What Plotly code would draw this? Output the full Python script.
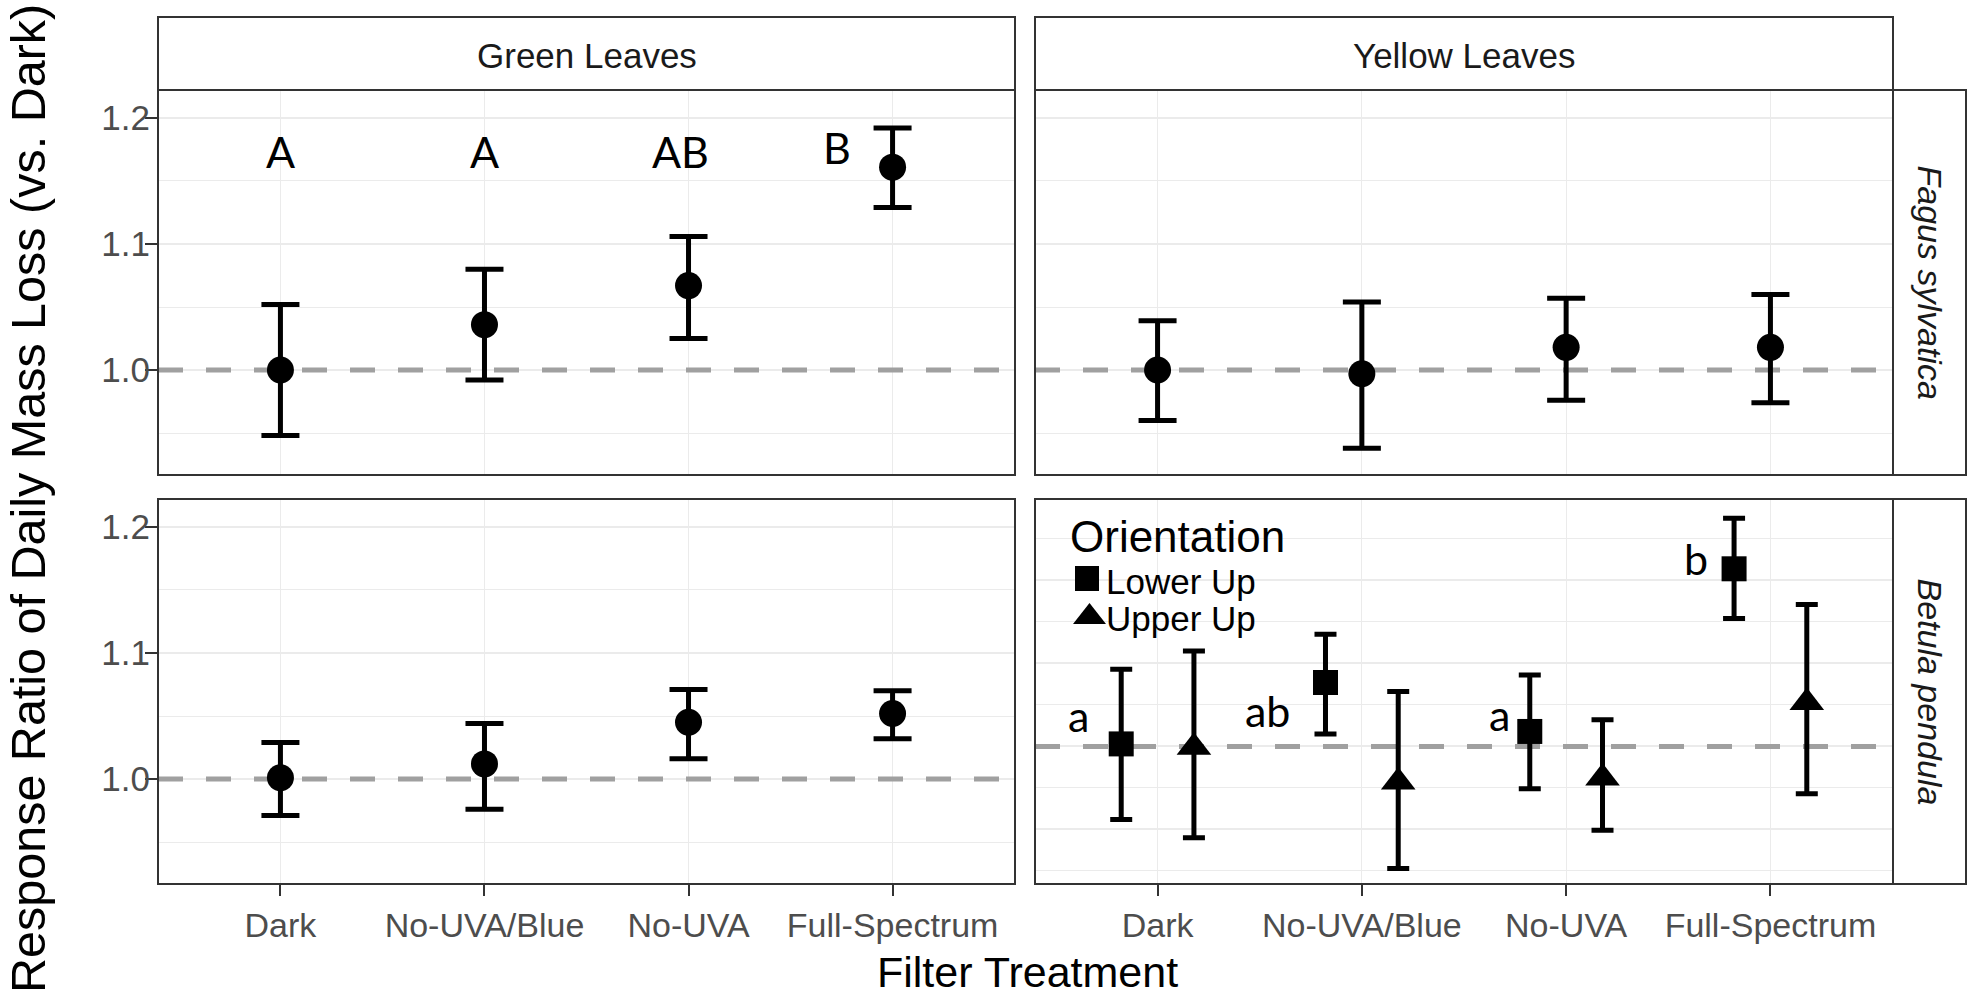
import plotly.graph_objects as go

# ---------------- data ----------------
categories = ["Dark", "No-UVA/Blue", "No-UVA", "Full-Spectrum"]
leaf_types = ["Green Leaves", "Yellow Leaves"]
species = ["Fagus sylvatica", "Betula pendula"]
orientations = ["Lower Up", "Upper Up"]

# Fagus sylvatica – green leaves
fagus_green_mean = [1.000, 1.036, 1.067, 1.161]
fagus_green_upper = [1.052, 1.080, 1.106, 1.192]
fagus_green_lower = [0.948, 0.992, 1.025, 1.129]

# Fagus sylvatica – yellow leaves
fagus_yellow_mean = [1.000, 0.997, 1.018, 1.018]
fagus_yellow_upper = [1.039, 1.054, 1.057, 1.060]
fagus_yellow_lower = [0.960, 0.938, 0.976, 0.974]

# Betula pendula – green leaves
betula_green_mean = [1.001, 1.012, 1.045, 1.052]
betula_green_upper = [1.029, 1.044, 1.071, 1.070]
betula_green_lower = [0.971, 0.976, 1.016, 1.032]

# Betula pendula – yellow leaves, by orientation
betula_yellow_lowerup_mean = [1.003, 1.077, 1.018, 1.214]
betula_yellow_lowerup_upper = [1.093, 1.135, 1.086, 1.275]
betula_yellow_lowerup_lower = [0.912, 1.015, 0.949, 1.154]
betula_yellow_upperup_mean = [0.999, 0.957, 0.962, 1.053]
betula_yellow_upperup_upper = [1.115, 1.066, 1.032, 1.171]
betula_yellow_upperup_lower = [0.890, 0.853, 0.899, 0.943]

green_fagus_letters = ["A", "A", "AB", "B"]
yellow_betula_letters = ["a", "ab", "a", "b"]

reference_value = 1.0

# ---------------- layout helpers ----------------
W, H = 1971, 998
def PX(px):
    return px / W
def PY(py):
    return 1 - py / H

FONT = "Liberation Sans, Arial, sans-serif"
LETTER_FONT = "Lato, Open Sans, sans-serif"
GRID = "#EBEBEB"
BORDER = "#333333"

xpos = list(range(1, len(categories) + 1))
xrange_all = [0.4, 4.6]
dodge = 0.178

fig = go.Figure()

# dashed reference lines (drawn first so they sit under the points)
for xa, ya in [("x", "y"), ("x2", "y2"), ("x3", "y3"), ("x4", "y4")]:
    fig.add_trace(go.Scatter(
        x=xrange_all, y=[reference_value, reference_value], xaxis=xa, yaxis=ya,
        mode="lines", line=dict(color="#A0A0A0", width=5, dash="25px,23px"),
        showlegend=False, hoverinfo="skip"))

def err_trace(x, mean, upper, lower, xa, ya, symbol, size, capw, name):
    return go.Scatter(
        x=x, y=mean, xaxis=xa, yaxis=ya, mode="markers", name=name,
        marker=dict(symbol=symbol, size=size, color="black"),
        error_y=dict(type="data", symmetric=False,
                     array=[u - m for u, m in zip(upper, mean)],
                     arrayminus=[m - l for m, l in zip(mean, lower)],
                     color="black", thickness=5, width=capw),
        showlegend=False, hoverinfo="skip",
    )

fig.add_trace(err_trace(xpos, fagus_green_mean, fagus_green_upper, fagus_green_lower,
                        "x", "y", "circle", 27, 19, "Fagus green"))
fig.add_trace(err_trace(xpos, fagus_yellow_mean, fagus_yellow_upper, fagus_yellow_lower,
                        "x2", "y2", "circle", 27, 19, "Fagus yellow"))
fig.add_trace(err_trace(xpos, betula_green_mean, betula_green_upper, betula_green_lower,
                        "x3", "y3", "circle", 27, 19, "Betula green"))
fig.add_trace(err_trace([p - dodge for p in xpos], betula_yellow_lowerup_mean,
                        betula_yellow_lowerup_upper, betula_yellow_lowerup_lower,
                        "x4", "y4", "square", 25, 11, orientations[0]))
fig.add_trace(err_trace([p + dodge for p in xpos], betula_yellow_upperup_mean,
                        betula_yellow_upperup_upper, betula_yellow_upperup_lower,
                        "x4", "y4", "triangle-up", 30, 11, orientations[1]))

# ---------------- axes ----------------
xdom_left = [PX(158), PX(1015)]
xdom_right = [PX(1035), PX(1893)]
ydom_top = [PY(475), PY(90)]
ydom_bot = [PY(884), PY(499)]
yrange_main = [0.9167, 1.2222]
yrange_br = [0.8342, 1.2981]

def xaxis(domain, anchor, show_labels):
    return dict(domain=domain, anchor=anchor, range=xrange_all,
                tickmode="array", tickvals=xpos, ticktext=categories,
                showticklabels=show_labels,
                ticks="outside" if show_labels else "", ticklen=11, tickwidth=2,
                tickcolor=BORDER,
                tickfont=dict(family=FONT, size=34, color="#4D4D4D"),
                showgrid=True, gridcolor=GRID, gridwidth=1.2,
                zeroline=False, showline=False, fixedrange=True)

def yaxis(domain, anchor, rng, show_labels, major, minor):
    return dict(domain=domain, anchor=anchor, range=rng,
                tickmode="array", tickvals=major,
                ticktext=[f"{v:.1f}" for v in major],
                showticklabels=show_labels,
                ticks="outside" if show_labels else "", ticklen=12, tickwidth=2,
                tickcolor=BORDER, ticklabelstandoff=-12,
                tickfont=dict(family=FONT, size=35, color="#4D4D4D"),
                showgrid=True, gridcolor=GRID, gridwidth=2,
                minor=dict(tickmode="array", tickvals=minor, showgrid=True,
                           gridcolor=GRID, gridwidth=1.2, ticks=""),
                zeroline=False, showline=False, fixedrange=True)

major_main = [1.0, 1.1, 1.2]
minor_main = [0.95, 1.05, 1.15]
major_br = [0.9, 1.0, 1.1, 1.2]
minor_br = [0.85, 0.95, 1.05, 1.15, 1.25]

fig.update_layout(
    xaxis=xaxis(xdom_left, "y", False),
    xaxis2=xaxis(xdom_right, "y2", False),
    xaxis3=xaxis(xdom_left, "y3", True),
    xaxis4=xaxis(xdom_right, "y4", True),
    yaxis=yaxis(ydom_top, "x", yrange_main, True, major_main, minor_main),
    yaxis2=yaxis(ydom_top, "x2", yrange_main, False, major_main, minor_main),
    yaxis3=yaxis(ydom_bot, "x3", yrange_main, True, major_main, minor_main),
    yaxis4=yaxis(ydom_bot, "x4", yrange_br, False, major_br, minor_br),
)

# ---------------- shapes ----------------
shapes = []
for xa, ya in [("x", "y"), ("x2", "y2"), ("x3", "y3"), ("x4", "y4")]:
    shapes.append(dict(type="rect", xref=f"{xa} domain", yref=f"{ya} domain",
                       x0=0, x1=1, y0=0, y1=1, layer="above",
                       line=dict(color=BORDER, width=2), fillcolor="rgba(0,0,0,0)"))
# strips
for dom in (xdom_left, xdom_right):
    shapes.append(dict(type="rect", xref="paper", yref="paper",
                       x0=dom[0], x1=dom[1], y0=PY(90), y1=PY(17),
                       line=dict(color=BORDER, width=2), fillcolor="white"))
for dom in (ydom_top, ydom_bot):
    shapes.append(dict(type="rect", xref="paper", yref="paper",
                       x0=PX(1893), x1=PX(1966), y0=dom[0], y1=dom[1],
                       line=dict(color=BORDER, width=2), fillcolor="white"))

# legend keys (square and triangle) inside bottom-right panel
shapes.append(dict(type="rect", xref="paper", yref="paper",
                   x0=PX(1075), x1=PX(1099), y0=PY(591), y1=PY(566),
                   line=dict(width=0), fillcolor="black", layer="above"))
shapes.append(dict(type="path", xref="paper", yref="paper", layer="above",
                   path=(f"M {PX(1073)},{PY(624)} L {PX(1106)},{PY(624)} "
                         f"L {PX(1089.5)},{PY(603)} Z"),
                   line=dict(width=0), fillcolor="black"))

# ---------------- annotations ----------------
ann = []
for dom, txt in zip((xdom_left, xdom_right), leaf_types):
    ann.append(dict(text=txt, xref="paper", yref="paper", x=(dom[0] + dom[1]) / 2,
                    y=PY(55), xanchor="center", yanchor="middle", showarrow=False,
                    font=dict(family=FONT, size=35, color="#1A1A1A")))
for dom, txt in zip((ydom_top, ydom_bot), species):
    ann.append(dict(text=f"<i>{txt}</i>", xref="paper", yref="paper", x=PX(1930),
                    y=(dom[0] + dom[1]) / 2, xanchor="center", yanchor="middle",
                    textangle=90, showarrow=False,
                    font=dict(family=FONT, size=34, color="#1A1A1A")))
ann.append(dict(text="Response Ratio of Daily Mass Loss (vs. Dark)", xref="paper",
                yref="paper", x=PX(28), y=PY(499), xanchor="center", yanchor="middle",
                textangle=-90, showarrow=False,
                font=dict(family=FONT, size=48.5, color="black")))
ann.append(dict(text="Filter Treatment", xref="paper", yref="paper", x=PX(1027),
                y=PY(972), xanchor="center", yanchor="middle", showarrow=False,
                font=dict(family=FONT, size=43, color="black")))

# significance letters (positions are layout, relative to categories)
green_letter_dx = [0.0, 0.0, -0.04, -0.27]
green_letter_y = [1.1736, 1.1736, 1.1736, 1.1762]
for p, dx, yy, t in zip(xpos, green_letter_dx, green_letter_y, green_fagus_letters):
    ann.append(dict(text=t, xref="x", yref="y", x=p + dx, y=yy, showarrow=False,
                    xanchor="center", yanchor="middle",
                    font=dict(family=LETTER_FONT, size=43, color="black")))
yb_letter_dx = [-0.386, -0.46, -0.326, -0.362]
yb_letter_y = [1.037, 1.043, 1.039, 1.226]
for p, dx, yy, t in zip(xpos, yb_letter_dx, yb_letter_y, yellow_betula_letters):
    ann.append(dict(text=t, xref="x4", yref="y4", x=p + dx, y=yy, showarrow=False,
                    xanchor="center", yanchor="middle",
                    font=dict(family=LETTER_FONT, size=43, color="black")))

# legend text
ann.append(dict(text="Orientation", xref="paper", yref="paper", x=PX(1068), y=PY(536),
                xanchor="left", yanchor="middle", showarrow=False,
                font=dict(family=FONT, size=44, color="black")))
ann.append(dict(text=orientations[0], xref="paper", yref="paper", x=PX(1104), y=PY(581),
                xanchor="left", yanchor="middle", showarrow=False,
                font=dict(family=FONT, size=35, color="black")))
ann.append(dict(text=orientations[1], xref="paper", yref="paper", x=PX(1104), y=PY(618),
                xanchor="left", yanchor="middle", showarrow=False,
                font=dict(family=FONT, size=35, color="black")))

fig.update_layout(
    width=W, height=H, margin=dict(l=0, r=0, t=0, b=0, pad=0),
    paper_bgcolor="white", plot_bgcolor="white", showlegend=False,
    shapes=shapes, annotations=ann,
)

fig.write_html("out.html", config={"displayModeBar": False})
